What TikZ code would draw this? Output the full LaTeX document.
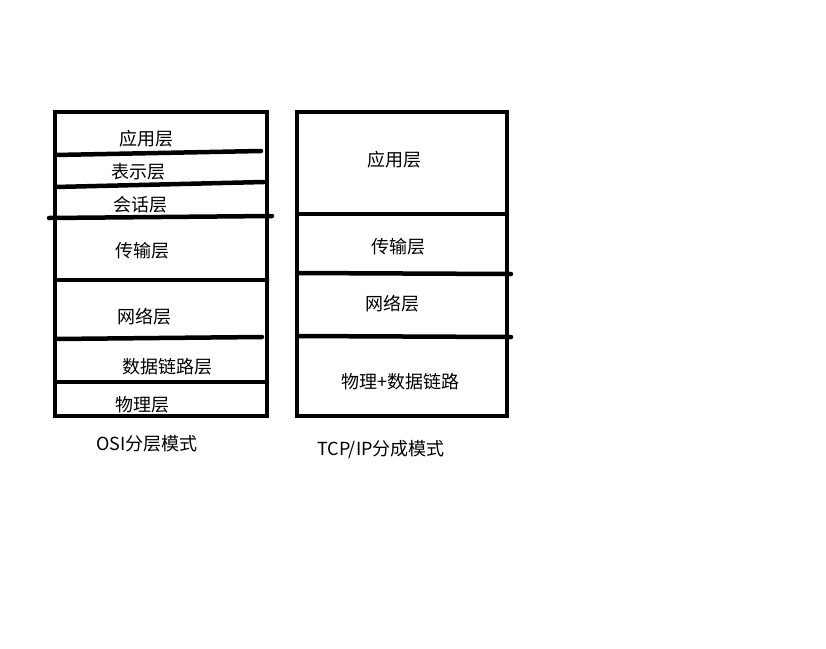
\documentclass[tikz,border=0pt]{standalone}
\usepackage{fontspec}
\newfontfamily\cjk{Noto Sans CJK SC}
\usetikzlibrary{positioning}

\begin{document}
\begin{tikzpicture}[
    x=1pt, y=-1pt,
    font=\cjk\fontsize{18}{20}\selectfont,
    layer/.style={inner sep=0pt, anchor=center},
    caption/.style={inner sep=0pt, anchor=center},
    frame/.style={draw, line width=4.5pt},
    rule/.style={draw, line width=4.5pt, line cap=round}
]
    \useasboundingbox (0,0) rectangle (826,648);

    % OSI
    \draw[frame] (55,112) rectangle (267,416);
    \draw[rule] (55,155) -- (261,151);
    \draw[rule] (55,187) -- (264,182);
    \draw[rule] (49,218) -- (272,216);
    \draw[rule] (55,280) -- (267,280);
    \draw[rule] (55,339) -- (262,337);
    \draw[rule] (55,382) -- (267,382);

    \node[layer] (app)  at (146,139) {应用层};
    \node[layer] (pres) at (138,172) {表示层};
    \node[layer] (sess) at (140,205) {会话层};
    \node[layer] (trans) at (142,251) {传输层};
    \node[layer] (net)  at (144,317) {网络层};
    \node[layer] (link) at (167,367) {数据链路层};
    \node[layer] (phys) at (142,405) {物理层};

    % TCP/IP
    \draw[frame] (297,112) rectangle (507,416);
    \draw[rule] (297,214) -- (507,214);
    \draw[rule] (297,273) -- (511,274);
    \draw[rule] (297,336) -- (511,337);

    \node[layer] (tapp)  at (394,160) {应用层};
    \node[layer] (ttrans) at (398,247) {传输层};
    \node[layer] (tnet)  at (392,304) {网络层};
    \node[layer] (tphys) at (400,382) {物理+数据链路};

    \node[caption] (osi) at (147,444) {OSI分层模式};
    \node[caption] (tcp) at (381,450) {TCP/IP分成模式};
\end{tikzpicture}
\end{document}
